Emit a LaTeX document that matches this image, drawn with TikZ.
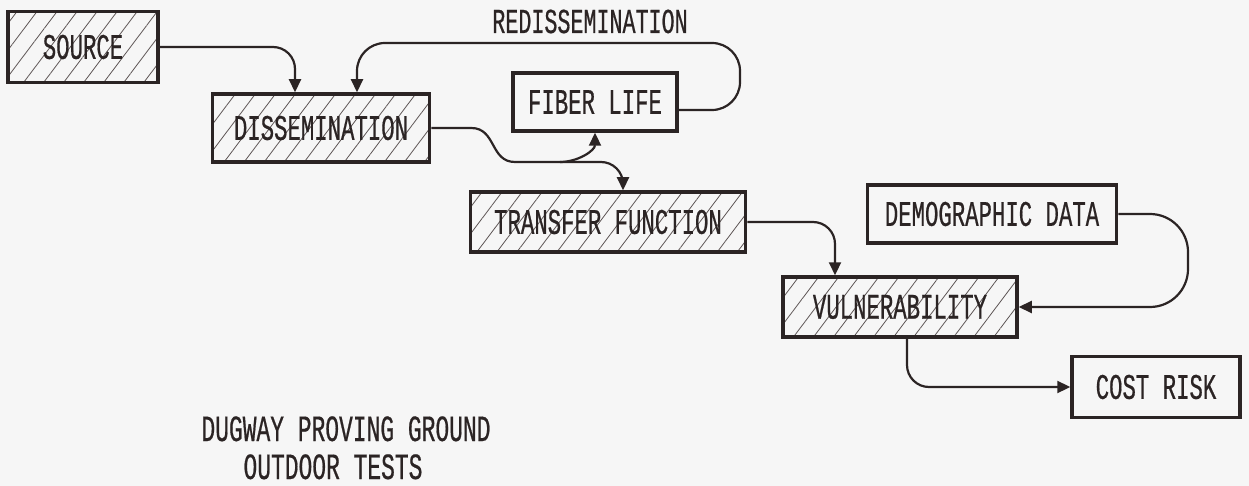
\documentclass[tikz,border=0pt]{standalone}
\usepackage{fontspec}
\setmonofont[FakeStretch=0.62, FakeBold=0.5]{Liberation Mono}
\usepackage{xcolor}
\usepackage{tikz}
\usetikzlibrary{positioning, arrows.meta, calc, patterns.meta}
\definecolor{paperbg}{HTML}{F6F6F6}
\definecolor{inkdark}{HTML}{2B2424}
\definecolor{hatchgray}{HTML}{5E5656}

\tikzset{
  plainbox/.style={draw=inkdark, line width=3.5pt, rectangle, text=inkdark,
    font=\ttfamily\fontsize{36}{38}\selectfont},
  hatchbox/.style={plainbox, pattern={Lines[angle=53, distance=16pt, line width=0.8pt]}, pattern color=hatchgray},
  link/.style={draw=inkdark, line width=2.2pt, rounded corners=22pt, -{Triangle[length=13pt, width=12pt]}},
  wire/.style={draw=inkdark, line width=2.2pt},
  captext/.style={text=inkdark, anchor=base, inner sep=0pt, font=\ttfamily\fontsize{37}{39}\selectfont},
}

\begin{document}
\begin{tikzpicture}[x=1pt, y=-1pt]
  \fill[paperbg] (0,0) rectangle (1249,486);

  % boxes
  \node[hatchbox, minimum width=150pt, minimum height=71pt] (source) at (83,47) {SOURCE};
  \node[hatchbox, minimum width=217pt, minimum height=68pt] (dissem) at (321,128) {DISSEMINATION};
  \node[plainbox, minimum width=164pt, minimum height=58pt] (fiberlife) at (595,102) {FIBER LIFE};
  \node[hatchbox, minimum width=275pt, minimum height=60pt] (transfer) at (608,222) {TRANSFER FUNCTION};
  \node[plainbox, minimum width=249pt, minimum height=58pt] (demodata) at (992,214) {DEMOGRAPHIC DATA};
  \node[hatchbox, minimum width=234pt, minimum height=60pt] (vuln) at (900,307) {VULNERABILITY};
  \node[plainbox, minimum width=168pt, minimum height=61pt] (costrisk) at (1156,387) {COST RISK};

  % redissemination loop
  \coordinate (redtop) at (740,43);
  \node[captext, font=\ttfamily\fontsize{35}{37}\selectfont] (redlabel) at (590,33) {REDISSEMINATION};
  \draw[link, rounded corners=28pt] ([yshift=-8pt]fiberlife.east) -| (redtop) -| ([xshift=36pt]dissem.north);

  % links
  \draw[link] (source.east) -| ([xshift=-26pt]dissem.north);
  \coordinate (sbend) at (515,162);
  \coordinate (split) at (560,162);
  \draw[wire] (dissem.east) -- ++(40,0) .. controls +(25,0) and +(-25,0) .. (sbend) -- (split);
  \draw[link] (split) to[out=0, in=-90] (fiberlife.south);
  \draw[link] (split) -| ([xshift=15pt]transfer.north);
  \draw[link] (transfer.east) -| ([xshift=-65pt]vuln.north);
  \coordinate (demoturn) at (1188,307);
  \draw[link, rounded corners=38pt] (demodata.east) -| (demoturn) -- (vuln.east);
  \draw[link] ([xshift=7pt]vuln.south) |- (costrisk.west);

  % caption
  \node[captext] (dugway) at (346,441) {DUGWAY PROVING GROUND};
  \node[captext] (outdoor) at (333,479) {OUTDOOR TESTS};
\end{tikzpicture}
\end{document}
